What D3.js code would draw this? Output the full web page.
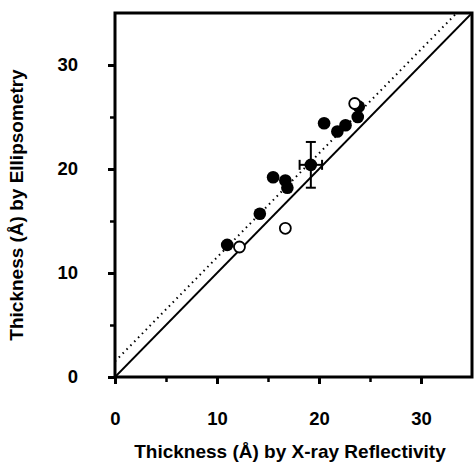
<!DOCTYPE html>
<html>
<head>
<meta charset="utf-8">
<script src="https://d3js.org/d3.v7.min.js"></script>
<style>
  body { margin: 0; background: #fff; }
  text { font-family: "Liberation Sans", Arial, sans-serif; font-weight: bold; }
</style>
</head>
<body>
<script>
// data (thickness in Å)
const filledX = [11.0, 14.2, 15.5, 16.7, 16.9, 19.2, 20.5, 21.8, 22.6, 23.8, 23.9];
const filledY = [12.7, 15.7, 19.2, 18.9, 18.2, 20.4, 24.4, 23.6, 24.2, 25.0, 26.0];
const openX = [12.2, 16.7, 23.5];
const openY = [12.5, 14.3, 26.3];
// error bars on one point: [x, y, xerr, yerr]
const errPoint = [19.2, 20.4, 1.1, 2.2];
const majorTicks = [0, 10, 20, 30];
const minorTicks = [5, 15, 25];
const fitOffset = 1.5; // dotted line: y = x + offset

const width = 475, height = 463;
const margin = {top: 13, right: 3, bottom: 86, left: 115};

const svg = d3.select("body").append("svg")
  .attr("width", width).attr("height", height);

const x = d3.scaleLinear().domain([0, 35]).range([margin.left, width - margin.right]);
const y = d3.scaleLinear().domain([0, 35]).range([height - margin.bottom, margin.top]);

// minor ticks
svg.append("g")
  .attr("transform", `translate(0,${y(0)})`)
  .call(d3.axisBottom(x).tickValues(minorTicks).tickSize(5).tickFormat(""))
  .call(g => g.select(".domain").remove())
  .selectAll("line").attr("stroke-width", 2.5);
svg.append("g")
  .attr("transform", `translate(${x(0)},0)`)
  .call(d3.axisLeft(y).tickValues(minorTicks).tickSize(5).tickFormat(""))
  .call(g => g.select(".domain").remove())
  .selectAll("line").attr("stroke-width", 2.5);

// major ticks
const xAxis = svg.append("g")
  .attr("transform", `translate(0,${y(0)})`)
  .call(d3.axisBottom(x).tickValues(majorTicks).tickSize(7).tickPadding(28))
  .call(g => g.select(".domain").remove());
xAxis.selectAll("line").attr("stroke-width", 3);
xAxis.selectAll("text").attr("font-size", 18.5).attr("fill", "#000");

const yAxis = svg.append("g")
  .attr("transform", `translate(${x(0)},0)`)
  .call(d3.axisLeft(y).tickValues(majorTicks).tickSize(7).tickPadding(30))
  .call(g => g.select(".domain").remove());
yAxis.selectAll("line").attr("stroke-width", 3);
yAxis.selectAll("text").attr("font-size", 18.5).attr("fill", "#000");

// frame
svg.append("rect")
  .attr("x", x(0)).attr("y", y(35))
  .attr("width", x(35) - x(0)).attr("height", y(0) - y(35))
  .attr("fill", "none").attr("stroke", "#000").attr("stroke-width", 3);

// y = x line
svg.append("line")
  .attr("x1", x(0)).attr("y1", y(0)).attr("x2", x(35)).attr("y2", y(35))
  .attr("stroke", "#000").attr("stroke-width", 1.8);

// dotted fit line
svg.append("line")
  .attr("x1", x(0)).attr("y1", y(fitOffset))
  .attr("x2", x(35 - fitOffset)).attr("y2", y(35))
  .attr("stroke", "#000").attr("stroke-width", 2)
  .attr("stroke-dasharray", "1.5,4");

// error bars
const eg = svg.append("g").attr("stroke", "#000").attr("stroke-width", 2);
const [ex, ey, exe, eye] = errPoint;
eg.append("line").attr("x1", x(ex)).attr("x2", x(ex)).attr("y1", y(ey - eye)).attr("y2", y(ey + eye));
eg.append("line").attr("x1", x(ex) - 5).attr("x2", x(ex) + 5).attr("y1", y(ey - eye)).attr("y2", y(ey - eye));
eg.append("line").attr("x1", x(ex) - 5).attr("x2", x(ex) + 5).attr("y1", y(ey + eye)).attr("y2", y(ey + eye));
eg.append("line").attr("x1", x(ex - exe)).attr("x2", x(ex + exe)).attr("y1", y(ey)).attr("y2", y(ey));
eg.append("line").attr("x1", x(ex - exe)).attr("x2", x(ex - exe)).attr("y1", y(ey) - 5).attr("y2", y(ey) + 5);
eg.append("line").attr("x1", x(ex + exe)).attr("x2", x(ex + exe)).attr("y1", y(ey) - 5).attr("y2", y(ey) + 5);

// filled points
svg.append("g").selectAll("circle")
  .data(filledX.map((d, i) => [d, filledY[i]]))
  .join("circle")
  .attr("cx", d => x(d[0])).attr("cy", d => y(d[1]))
  .attr("r", 6.3).attr("fill", "#000");

// open points
svg.append("g").selectAll("circle")
  .data(openX.map((d, i) => [d, openY[i]]))
  .join("circle")
  .attr("cx", d => x(d[0])).attr("cy", d => y(d[1]))
  .attr("r", 5.5).attr("fill", "#fff").attr("stroke", "#000").attr("stroke-width", 1.8);

// axis titles
svg.append("text")
  .attr("x", 290).attr("y", 458)
  .attr("text-anchor", "middle").attr("font-size", 19)
  .text("Thickness (Å) by X-ray Reflectivity");

svg.append("text")
  .attr("transform", `translate(23,${(y(0) + y(35)) / 2 + 10}) rotate(-90)`)
  .attr("text-anchor", "middle").attr("font-size", 19)
  .text("Thickness (Å) by Ellipsometry");
</script>
</body>
</html>
